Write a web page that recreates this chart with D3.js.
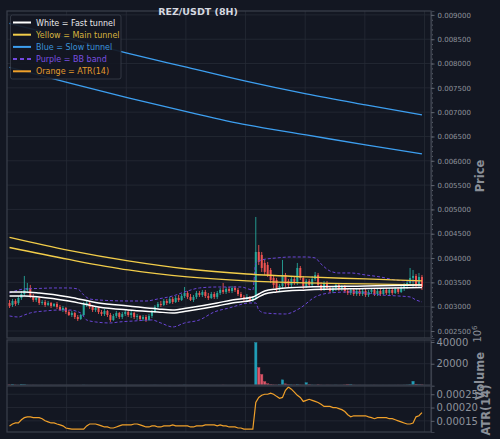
<!DOCTYPE html>
<html>
<head>
<meta charset="utf-8">
<script src="https://cdn.jsdelivr.net/npm/d3@7"></script>
<style>
html, body { margin: 0; padding: 0; background: #131722; }
svg { display: block; font-family: "DejaVu Sans", sans-serif; }
</style>
</head>
<body>
<svg id="chart" width="500" height="439"></svg>
<script>
// candles, prices in 1e-6 USDT (8H)
var open = [3076,3035,3117,3076,3179,3261,3344,3385,3220,3138,
  3179,3076,3097,3035,3076,3015,3056,2994,2932,2973,
  2891,2829,2871,2788,2747,2829,3035,3076,2994,2932,
  2973,2891,2850,2912,2829,2727,2809,2871,2788,2850,
  2891,2829,2871,2788,2809,2747,2788,2727,2809,2891,
  2994,3056,3035,3117,3076,3159,3097,3179,3138,3220,
  3282,3200,3138,3200,3282,3241,3303,3220,3179,3261,
  3200,3282,3344,3303,3364,3323,3385,3344,3261,3200,
  3159,3200,3138,3179,4125,4064,3899,3858,3755,3591,
  3549,3364,3426,3652,3529,3447,3570,3488,3796,3591,
  3426,3529,3447,3570,3652,3447,3364,3488,3385,3323,
  3385,3447,3364,3405,3323,3282,3344,3261,3323,3261,
  3323,3241,3303,3344,3261,3323,3261,3344,3282,3344,
  3282,3364,3303,3385,3447,3488,3591,3632,3447,3611];
var close = [3015,3117,3056,3179,3261,3344,3385,3220,3138,3179,
  3076,3097,3035,3076,3015,3056,2994,2932,2973,2891,
  2829,2871,2788,2747,2829,3035,3076,2994,2932,2973,
  2891,2850,2912,2829,2727,2809,2871,2788,2850,2891,
  2829,2871,2788,2809,2747,2788,2727,2809,2891,2994,
  3056,3035,3117,3076,3159,3097,3179,3138,3220,3282,
  3200,3138,3200,3282,3241,3303,3220,3179,3261,3200,
  3282,3344,3303,3364,3323,3385,3344,3261,3200,3159,
  3200,3138,3179,4125,3920,3796,3714,3652,3549,3447,
  3364,3426,3652,3467,3447,3570,3488,3796,3591,3426,
  3529,3447,3570,3652,3447,3364,3488,3385,3323,3385,
  3447,3364,3405,3323,3282,3344,3261,3323,3261,3323,
  3241,3303,3344,3261,3323,3261,3344,3282,3344,3282,
  3364,3303,3385,3447,3488,3591,3632,3447,3611,3405];
var high = [3138,3159,3159,3220,3323,3632,3488,3447,3261,3220,
  3200,3138,3138,3117,3097,3076,3097,3035,3015,2994,
  2932,2912,2891,2829,2850,3097,3117,3097,3035,3015,
  2994,2932,2953,2932,2871,2850,2912,2891,2891,2932,
  2932,2912,2891,2850,2829,2829,2829,2850,2932,3035,
  3097,3117,3159,3159,3200,3200,3220,3241,3261,3405,
  3323,3261,3241,3323,3323,3344,3344,3282,3303,3303,
  3323,3385,3488,3405,3405,3426,3426,3385,3303,3241,
  3261,3220,3220,4845,4269,4125,3961,3920,3796,3652,
  3591,3467,3961,3693,3570,3632,3611,3899,3837,3632,
  3570,3570,3632,3714,3693,3508,3529,3529,3426,3426,
  3488,3488,3447,3447,3364,3385,3385,3364,3364,3364,
  3364,3344,3385,3385,3364,3364,3385,3385,3385,3385,
  3405,3405,3426,3488,3549,3796,3755,3673,3693,3652];
var low = [2973,2994,3015,3035,3138,3220,3282,3179,3097,3097,
  3035,3035,2994,3015,2973,2994,2953,2912,2891,2850,
  2809,2788,2747,2706,2727,2809,2994,2953,2891,2891,
  2850,2809,2809,2788,2686,2706,2768,2747,2747,2809,
  2788,2768,2747,2727,2706,2706,2686,2706,2768,2871,
  2953,2994,3015,3035,3056,3056,3076,3097,3117,3179,
  3159,3117,3097,3159,3200,3200,3179,3138,3159,3159,
  3159,3241,3261,3261,3282,3282,3303,3220,3159,3097,
  3117,3097,3097,3138,3858,3714,3652,3611,3488,3385,
  3303,3323,3385,3405,3405,3405,3447,3447,3549,3364,
  3385,3405,3405,3529,3405,3323,3323,3344,3282,3282,
  3323,3323,3323,3282,3241,3241,3220,3220,3220,3220,
  3200,3200,3261,3220,3220,3220,3241,3241,3241,3241,
  3261,3261,3282,3323,3364,3426,3405,3385,3385,3344];
var volume = [600,1100,500,400,1200,800,400,300,350,300,
  250,300,200,250,300,200,250,300,200,250,
  300,250,200,300,250,400,300,200,250,200,
  200,250,300,200,250,300,200,150,200,250,
  200,150,200,250,200,300,200,250,300,350,
  300,250,200,250,300,200,250,300,250,400,
  300,250,200,300,250,200,250,300,250,200,
  300,250,400,300,250,200,250,300,250,200,
  250,300,250,39500,16500,10200,3600,1600,900,600,
  500,700,5200,1500,800,600,500,700,500,400,
  2600,700,500,400,600,400,300,400,350,300,
  400,300,350,500,900,1000,400,300,350,300,
  300,250,300,350,300,250,300,250,300,250,
  300,350,300,400,500,700,3900,1200,800,600];
// ATR(14) in 1e-6
var atr = [131,138,142,142,154,162,165,165,162,162,
  162,158,150,146,142,142,138,135,131,123,
  121,119,119,119,119,119,131,138,138,138,
  135,131,127,127,123,123,127,131,135,135,
  135,135,138,138,135,131,127,127,131,131,
  127,127,131,131,131,135,131,131,131,131,
  131,127,127,131,131,131,135,135,135,135,
  131,135,131,131,127,127,127,123,123,119,
  119,119,119,219,238,246,250,250,254,250,
  242,235,238,265,277,269,258,246,238,223,
  227,231,227,223,219,212,204,204,204,200,
  200,196,192,185,173,165,169,169,169,169,
  169,165,162,158,162,162,162,162,158,158,
  154,150,146,142,138,138,142,165,169,181];

// tunnels (read at candle indices)
var tunnelIdx = [0,20,40,60,80,100,120,139];
var slowUpper = [8825,8517,8208,7920,7632,7375,7149,6943];
var slowLower = [7920,7601,7293,7005,6737,6532,6326,6141];
var mainUpper = [4423,4156,3940,3775,3672,3611,3570,3529];
var mainLower = [4217,3971,3755,3611,3529,3488,3467,3447];
var fastIdx = [0,5,10,20,30,40,50,55,60,70,75,82,84,86,90,100,120,139];
var fastUpper = [3303,3303,3282,3200,3076,3015,2953,2932,2973,3076,3138,3200,3261,3323,3364,3405,3426,3447];
var fastLower = [3220,3220,3200,3117,2994,2932,2891,2871,2912,3015,3076,3138,3200,3261,3303,3344,3375,3395];
// bollinger band
var bbUpIdx = [0,5,10,15,20,23,25,27,30,40,46,50,55,60,64,70,78,82,83,85,90,95,100,103,105,108,111,115,120,125,130,135,139];
var bbUpper = [3282,3364,3375,3385,3385,3364,3241,3159,3138,3117,3117,3159,3220,3323,3385,3405,3405,3344,3899,3961,4002,4022,4022,4002,3878,3734,3693,3693,3652,3611,3549,3529,3529];
var bbLowIdx = [0,3,5,7,12,17,20,24,26,29,34,37,42,48,51,55,59,64,69,74,81,83,84,86,93,98,103,108,115,120,125,131,135,137,139];
var bbLower = [2809,2788,2829,2871,2912,2932,2932,2871,2727,2686,2665,2686,2706,2727,2665,2583,2665,2727,2891,2973,3076,3076,2932,2871,2850,2973,3200,3282,3303,3282,3241,3220,3200,3138,3097];

// axis ticks
var priceTicks = [0.0025,0.003,0.0035,0.004,0.0045,0.005,0.0055,0.006,0.0065,0.007,0.0075,0.008,0.0085,0.009];
var volumeTicks = [20000, 40000];
var atrTicks = [0.00015, 0.0002, 0.00025];
var gridIdx = [19.25, 39.35, 59.45, 79.55, 99.65, 119.75, 139.85];

var legendItems = [
  {label: "White = Fast tunnel", line: "#ffffff", text: "#e8e8ea", dash: null},
  {label: "Yellow = Main tunnel", line: "#f2cd4a", text: "#d8b43e", dash: null},
  {label: "Blue = Slow tunnel", line: "#3d9ff0", text: "#3b92d8", dash: null},
  {label: "Purple = BB band", line: "#7348e0", text: "#7a4fe0", dash: "4,3"},
  {label: "Orange = ATR(14)", line: "#f0a02a", text: "#e39a2c", dash: null}
];

var P = 1e-6;
var svg = d3.select("#chart"),
    left = 7,
    right = 431,
    main = {top: 11, bottom: 338},
    vol = {top: 340, bottom: 385},
    atrPanel = {top: 386, bottom: 432};

var x = d3.scaleLinear().domain([-0.85, 142.05]).range([left, right]);
var yP = d3.scaleLinear().domain([0.002356, 0.00908]).range([main.bottom, main.top]);
var yV = d3.scaleLinear().domain([0, 41800]).range([vol.bottom + 0.5, vol.top]);
var yA = d3.scaleLinear().domain([0.000108, 0.000281]).range([atrPanel.bottom, atrPanel.top]);

var upCol = "#26a69a", downCol = "#ef5350";
var gridCol = "#262b36", frameCol = "#3b404c", labelCol = "#8d929b";

svg.append("rect").attr("width", 500).attr("height", 439).attr("fill", "#131722");

var defs = svg.append("defs");
[["clipMain", main], ["clipVol", vol], ["clipAtr", atrPanel]].forEach(function(c) {
  defs.append("clipPath").attr("id", c[0]).append("rect")
    .attr("x", left).attr("y", c[1].top)
    .attr("width", right - left).attr("height", c[1].bottom - c[1].top);
});

// grid
function grid(panel, yScale, ticks) {
  var g = svg.append("g").attr("stroke", gridCol).attr("stroke-width", 0.8);
  g.selectAll("line.v").data(gridIdx).enter().append("line")
    .attr("x1", function(d) { return x(d); }).attr("x2", function(d) { return x(d); })
    .attr("y1", panel.top).attr("y2", panel.bottom);
  g.selectAll("line.h").data(ticks).enter().append("line")
    .attr("x1", left).attr("x2", right)
    .attr("y1", function(d) { return yScale(d); }).attr("y2", function(d) { return yScale(d); });
}
grid(main, yP, priceTicks);
grid(vol, yV, volumeTicks);
grid(atrPanel, yA, atrTicks);

// candles
var idx = d3.range(close.length);
var cg = svg.append("g").attr("clip-path", "url(#clipMain)");
cg.selectAll("line.wick").data(idx).enter().append("line")
  .attr("x1", function(i) { return x(i); }).attr("x2", function(i) { return x(i); })
  .attr("y1", function(i) { return yP(high[i] * P); })
  .attr("y2", function(i) { return yP(low[i] * P); })
  .attr("stroke", function(i) { return close[i] >= open[i] ? upCol : downCol; })
  .attr("stroke-width", 0.9);
cg.selectAll("rect.body").data(idx).enter().append("rect")
  .attr("x", function(i) { return x(i) - 1; })
  .attr("width", 2)
  .attr("y", function(i) { return yP(Math.max(open[i], close[i]) * P); })
  .attr("height", function(i) { return Math.max(0.8, Math.abs(yP(open[i] * P) - yP(close[i] * P))); })
  .attr("fill", function(i) { return close[i] >= open[i] ? upCol : downCol; });

// indicator lines
function drawLine(xs, ys, color, width, dash) {
  var pts = xs.map(function(d, k) { return [x(d), yP(ys[k] * P)]; });
  cg.append("path")
    .attr("d", d3.line().curve(d3.curveMonotoneX)(pts))
    .attr("fill", "none")
    .attr("stroke", color)
    .attr("stroke-width", width)
    .attr("stroke-dasharray", dash);
}
drawLine(bbUpIdx, bbUpper, "#6a45d6", 1, "3,2");
drawLine(bbLowIdx, bbLower, "#6a45d6", 1, "3,2");
drawLine(tunnelIdx, slowUpper, "#3d9ff0", 1.3);
drawLine(tunnelIdx, slowLower, "#3d9ff0", 1.3);
drawLine(tunnelIdx, mainUpper, "#f2cd4a", 1.3);
drawLine(tunnelIdx, mainLower, "#f2cd4a", 1.3);
drawLine(fastIdx, fastUpper, "#ffffff", 1.5);
drawLine(fastIdx, fastLower, "#ffffff", 1.5);

// volume
svg.append("g").attr("clip-path", "url(#clipVol)")
  .selectAll("rect").data(idx).enter().append("rect")
  .attr("x", function(i) { return x(i) - 1.2; })
  .attr("width", 2.4)
  .attr("y", function(i) { return yV(volume[i]); })
  .attr("height", function(i) { return yV(0) - yV(volume[i]); })
  .attr("fill", function(i) { return close[i] >= open[i] ? "#1f9fb8" : "#e0566a"; })
  .attr("stroke", function(i) { return close[i] >= open[i] ? "#2b8aa0" : "#b84a5a"; })
  .attr("stroke-width", 0.4);

// ATR
svg.append("g").attr("clip-path", "url(#clipAtr)").append("path")
  .attr("d", d3.line()
    .x(function(d, i) { return x(i); })
    .y(function(d) { return yA(d * P); })(atr))
  .attr("fill", "none")
  .attr("stroke", "#f0a02a")
  .attr("stroke-width", 1.2);

// frames
[main, vol, atrPanel].forEach(function(p) {
  svg.append("rect")
    .attr("x", left).attr("y", p.top)
    .attr("width", right - left).attr("height", p.bottom - p.top)
    .attr("fill", "none").attr("stroke", frameCol).attr("stroke-width", 1.2);
});

// right axes
function styleAxis(g, size) {
  g.select(".domain").attr("stroke", frameCol).attr("stroke-width", 1.2);
  g.selectAll(".tick line").attr("stroke", "#5d626d");
  g.selectAll("text").attr("fill", labelCol).attr("font-size", size)
    .attr("font-family", "DejaVu Sans");
}
var minorTicks = d3.range(24, 91).map(function(k) { return k / 10000; });
svg.append("g").attr("transform", "translate(" + right + ",0)")
  .call(d3.axisRight(yP).tickValues(minorTicks).tickSize(2).tickFormat(""))
  .call(function(g) { styleAxis(g, 7); });
svg.append("g").attr("transform", "translate(" + right + ",0)")
  .call(d3.axisRight(yP).tickValues(priceTicks).tickSize(3.5).tickPadding(3).tickFormat(d3.format(".6f")))
  .call(function(g) { styleAxis(g, 7); });
svg.append("g").attr("transform", "translate(" + right + ",0)")
  .call(d3.axisRight(yV).tickValues(volumeTicks).tickSize(3.5).tickPadding(2).tickFormat(d3.format("d")))
  .call(function(g) { styleAxis(g, 10); });
svg.append("g").attr("transform", "translate(" + right + ",0)")
  .call(d3.axisRight(yA).tickValues(atrTicks).tickSize(3.5).tickPadding(2).tickFormat(d3.format(".5f")))
  .call(function(g) { styleAxis(g, 10); });

// axis titles
function vText(tx, ty, str, size) {
  return svg.append("text")
    .attr("transform", "translate(" + tx + "," + ty + ") rotate(-90)")
    .attr("text-anchor", "middle")
    .attr("font-size", size)
    .attr("font-weight", "bold")
    .attr("fill", "#8a8f98")
    .text(str);
}
vText(484, 176, "Price", 11.5);
vText(484, 376, "Volume", 11.5);
vText(490, 410, "ATR(14)", 11.5);
var e6 = svg.append("text")
  .attr("transform", "translate(481,334) rotate(-90)")
  .attr("text-anchor", "middle")
  .attr("font-size", 10)
  .attr("fill", "#8a8f98");
e6.append("tspan").text("10");
e6.append("tspan").attr("dy", -4).attr("font-size", 7).text("6");

// title
svg.append("text")
  .attr("x", 198).attr("y", 15)
  .attr("text-anchor", "middle")
  .attr("font-size", 9.5)
  .attr("font-weight", "bold")
  .attr("fill", "#d6d9e0")
  .text("REZ/USDT (8H)");

// legend
var lg = svg.append("g");
lg.append("rect")
  .attr("x", 10.5).attr("y", 15).attr("width", 110.5).attr("height", 64)
  .attr("rx", 2).attr("fill", "#131722").attr("fill-opacity", 0.92)
  .attr("stroke", "#3b404c").attr("stroke-width", 0.8);
var rows = lg.selectAll("g.item").data(legendItems).enter().append("g")
  .attr("transform", function(d, i) { return "translate(0," + (22.5 + i * 12.2) + ")"; });
rows.append("line")
  .attr("x1", 13).attr("x2", 31).attr("y1", 0).attr("y2", 0)
  .attr("stroke", function(d) { return d.line; })
  .attr("stroke-width", 2)
  .attr("stroke-dasharray", function(d) { return d.dash; });
rows.append("text")
  .attr("x", 36).attr("y", 3)
  .attr("font-size", 8)
  .attr("fill", function(d) { return d.text; })
  .text(function(d) { return d.label; });
</script>
</body>
</html>
